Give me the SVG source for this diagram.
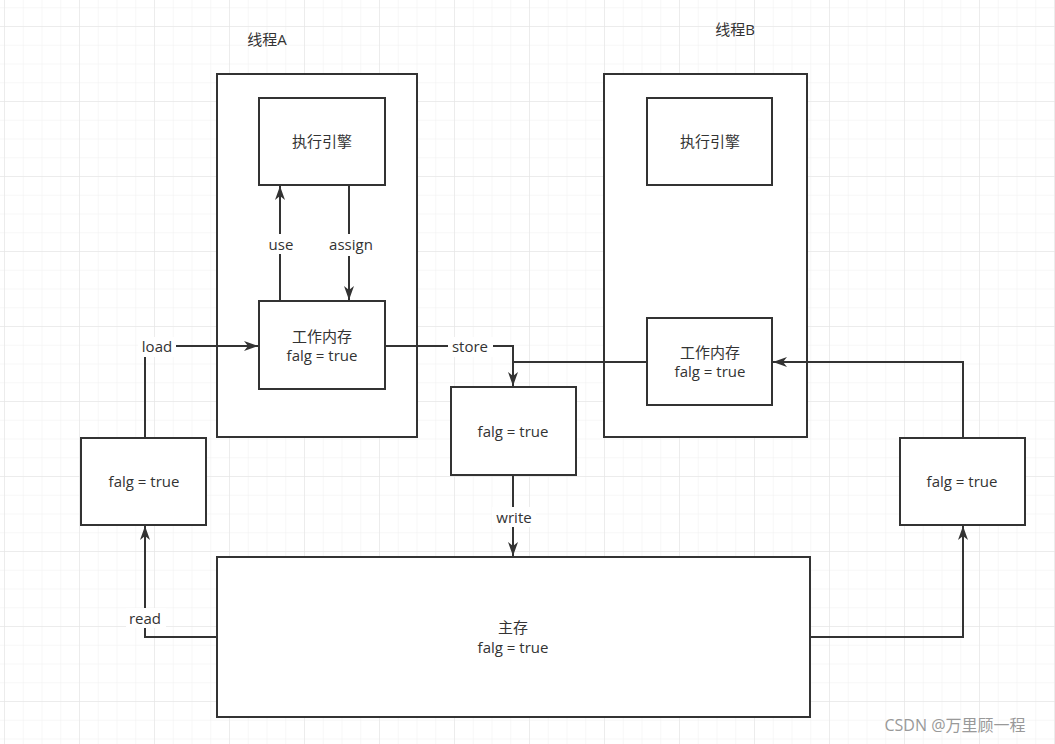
<svg xmlns="http://www.w3.org/2000/svg" width="1055" height="744" viewBox="0 0 1055 744">
<defs>
<pattern id="minor" x="4" y="7.25" width="18.75" height="18.75" patternUnits="userSpaceOnUse"><path d="M0 0H18.75M0 0V18.75" stroke="#efefef" stroke-width="1" fill="none"/></pattern>
<pattern id="major" x="4" y="26" width="75" height="75" patternUnits="userSpaceOnUse"><path d="M0 0H75M0 0V75" stroke="#e2e2e2" stroke-width="1" fill="none"/></pattern>
<marker id="ah" viewBox="0 0 14 12" refX="14" refY="6" markerWidth="14" markerHeight="12" markerUnits="userSpaceOnUse" orient="auto"><path d="M0 1L14 6L0 11L4 6Z" fill="#333"/></marker>
</defs>
<style>
.b{fill:#fff;stroke:#333;stroke-width:2}
.t{font-family:"Open Sans","Noto Sans CJK SC",sans-serif;font-size:15px;fill:#333;text-anchor:middle}
.c{fill:none;stroke:#333;stroke-width:2}
.lb{fill:#fff}
</style>
<rect width="1055" height="744" fill="#fff"/>
<rect width="1055" height="744" fill="url(#minor)"/>
<rect width="1055" height="744" fill="url(#major)"/>
<g id="threadA"><rect class="b" x="217" y="74" width="200" height="363"/><text class="t" x="267" y="45">线程A</text></g>
<g id="threadB"><rect class="b" x="604" y="74" width="203" height="363"/><text class="t" x="735" y="35">线程B</text></g>
<g id="execA"><rect class="b" x="259" y="98" width="126" height="87"/><text class="t" x="322" y="147">执行引擎</text></g>
<g id="workA"><rect class="b" x="259" y="301" width="126" height="88"/><text class="t" x="322" y="342">工作内存</text><text class="t" x="322" y="361">falg = true</text></g>
<g id="execB"><rect class="b" x="647" y="98" width="125" height="87"/><text class="t" x="710" y="147">执行引擎</text></g>
<g id="workB"><rect class="b" x="647" y="318" width="125" height="87"/><text class="t" x="710" y="358">工作内存</text><text class="t" x="710" y="377">falg = true</text></g>
<g id="mid"><rect class="b" x="451" y="387" width="125" height="88"/><text class="t" x="513" y="437">falg = true</text></g>
<g id="left"><rect class="b" x="81" y="438" width="125" height="87"/><text class="t" x="144" y="487">falg = true</text></g>
<g id="right"><rect class="b" x="900" y="438" width="125" height="87"/><text class="t" x="962" y="487">falg = true</text></g>
<g id="main"><rect class="b" x="217" y="557" width="593" height="160"/><text class="t" x="513" y="633">主存</text><text class="t" x="513" y="653">falg = true</text></g>
<g id="connectors">
<path class="c" d="M280 301V186" marker-end="url(#ah)"/>
<rect class="lb" x="264" y="234" width="34" height="20"/><text class="t" x="281" y="250">use</text>
<path class="c" d="M349 185V300" marker-end="url(#ah)"/>
<rect class="lb" x="326" y="234" width="50" height="22"/><text class="t" x="351" y="250">assign</text>
<path class="c" d="M385 346H513V386" marker-end="url(#ah)"/>
<rect class="lb" x="448" y="337" width="45" height="20"/><text class="t" x="470" y="352">store</text>
<path class="c" d="M647 362H513"/>
<path class="c" d="M513 475V556" marker-end="url(#ah)"/>
<rect class="lb" x="492" y="507" width="44" height="20"/><text class="t" x="514" y="523">write</text>
<path class="c" d="M145 438V346H258" marker-end="url(#ah)"/>
<rect class="lb" x="138" y="337" width="38" height="20"/><text class="t" x="157" y="352">load</text>
<path class="c" d="M217 637H145V526" marker-end="url(#ah)"/>
<rect class="lb" x="126" y="608" width="40" height="20"/><text class="t" x="145" y="624">read</text>
<path class="c" d="M810 637H963V526" marker-end="url(#ah)"/>
<path class="c" d="M963 438V362H773" marker-end="url(#ah)"/>
</g>
<text x="955" y="731" style="font-family:'Open Sans','Noto Sans CJK SC',sans-serif;font-size:16px;fill:#999;text-anchor:middle">CSDN @万里顾一程</text>
</svg>
